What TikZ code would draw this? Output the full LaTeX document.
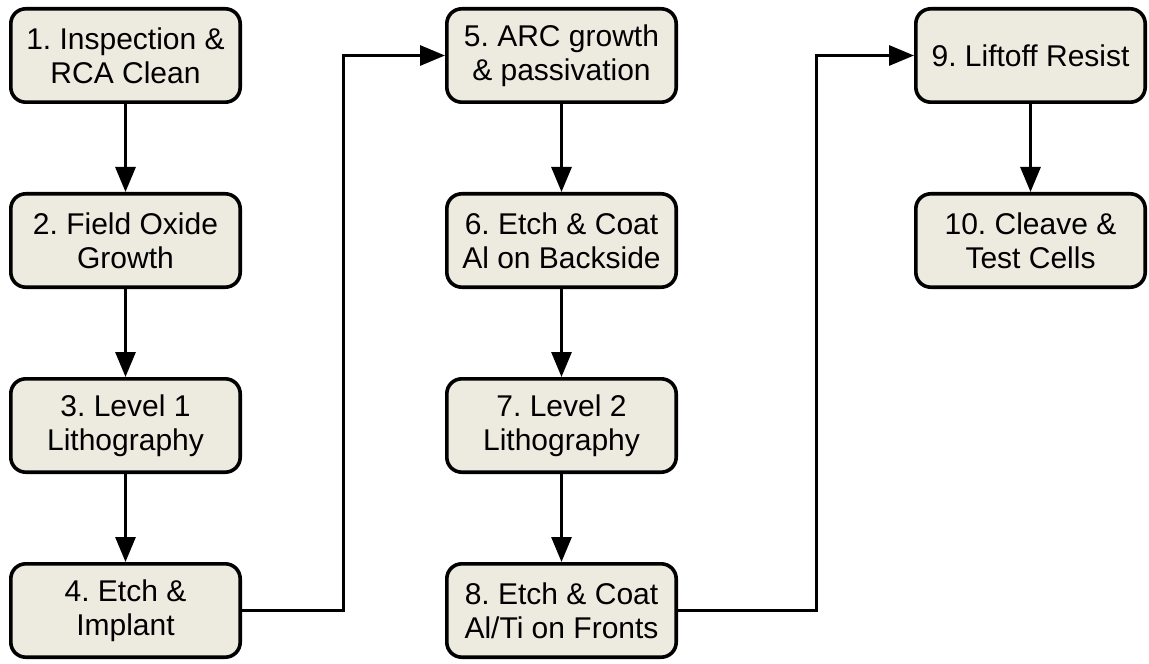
\documentclass[tikz,border=0pt]{standalone}
\usepackage{fontspec}
\setmainfont{Liberation Sans}
\frenchspacing
\usetikzlibrary{positioning,arrows.meta}
\definecolor{fundal}{HTML}{EDEAE0}
\tikzset{
  etapa/.style   = {draw, line width=1.8pt, fill=fundal, rounded corners=7.5pt,
                    align=center, minimum width=114.7pt, minimum height=46.7pt,
                    inner sep=2pt, font=\fontsize{15pt}{17pt}\selectfont},
  sageata/.style = {-{Triangle[length=12.5pt, width=10pt]}, line width=1.5pt}
}
\begin{document}
\begin{tikzpicture}[node distance=44pt and 101.5pt]
        \useasboundingbox (0,0) rectangle (574.5pt,-331.5pt);
        \node[etapa] (e1) at (62.75pt,-27.75pt) {1. Inspection \&\\ RCA Clean};
        \node[etapa, below=of e1] (e2) {2. Field Oxide\\ Growth};
        \node[etapa, below=of e2] (e3) {3. Level 1\\ Lithography};
        \node[etapa, below=of e3] (e4) {4. Etch \&\\ Implant};

        \node[etapa, right=of e1] (e5) {5. ARC growth\\ \& passivation};
        \node[etapa, below=of e5] (e6) {6. Etch \& Coat\\ Al on Backside};
        \node[etapa, below=of e6] (e7) {7. Level 2\\ Lithography};
        \node[etapa, below=of e7] (e8) {8. Etch \& Coat\\ Al/Ti on Fronts};

        \node[etapa, right=118pt of e5] (e9) {9. Liftoff Resist};
        \node[etapa, below=of e9] (e10) {10. Cleave \&\\ Test Cells};

        \draw[sageata] (e1) -- (e2);
        \draw[sageata] (e2) -- (e3);
        \draw[sageata] (e3) -- (e4);
        \draw[sageata] (e5) -- (e6);
        \draw[sageata] (e6) -- (e7);
        \draw[sageata] (e7) -- (e8);
        \draw[sageata] (e9) -- (e10);

        \draw[sageata] (e4.east) -- ++(50.75pt,0) |- (e5.west);
        \draw[sageata] (e8.east) -- ++(69pt,0) |- (e9.west);
    \end{tikzpicture}
\end{document}
